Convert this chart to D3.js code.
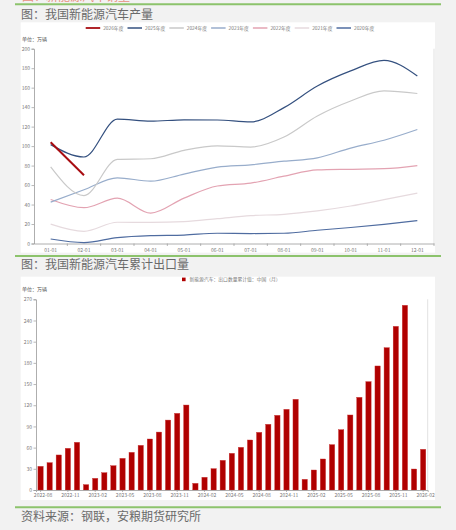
<!DOCTYPE html>
<html><head><meta charset="utf-8">
<script src="https://cdn.jsdelivr.net/npm/d3@7"></script>
<style>
html,body{margin:0;padding:0;background:#f2f2f2;}
svg{display:block;}
text{font-family:"Noto Sans CJK SC","Noto Sans",sans-serif;}
</style></head>
<body>
<svg id="c" width="456" height="530"></svg>
<script>
// ---------- data ----------
const months = ["01-01","02-01","03-01","04-01","05-01","06-01","07-01","08-01","09-01","10-01","11-01","12-01"];
const seriesNames = ["2026年度","2025年度","2024年度","2023年度","2022年度","2021年度","2020年度"];
const seriesColors = ["#a80d12","#34507f","#c9c9c9","#98adcb","#e3a3b2","#e6dade","#4f6ca0"];
const prod2026 = [104, 70];
const prod2025 = [101.5, 88.8, 127.7, 125.6, 127, 126.8, 124.8, 139.5, 161.7, 177.2, 188, 172];
const prod2024 = [78.7, 49.2, 86.4, 87, 95.7, 100.3, 99, 109.3, 130.9, 146.3, 156.6, 154];
const prod2023 = [42.5, 55.2, 67.4, 64, 71.3, 78.4, 80.8, 84.5, 87.9, 98, 106, 117];
const prod2022 = [45.2, 36.8, 46.5, 31.2, 46.6, 59, 62, 69.1, 75.5, 76.2, 76.8, 80];
const prod2021 = [19.9, 12.5, 21.8, 21.7, 22.5, 25.5, 28.6, 30, 33.5, 38.5, 45, 51.8];
const prod2020 = [4.6, 1, 6.1, 8.1, 8.7, 10.5, 10.2, 10.5, 13.6, 16.4, 19.7, 23.5];
const prodSeries = [prod2026, prod2025, prod2024, prod2023, prod2022, prod2021, prod2020];
const prodTicks = [0,20,40,60,80,100,120,140,160,180,200];

const exportMonths = [
 "2022-08","2022-09","2022-10","2022-11","2022-12",
 "2023-01","2023-02","2023-03","2023-04","2023-05","2023-06","2023-07","2023-08","2023-09","2023-10","2023-11","2023-12",
 "2024-01","2024-02","2024-03","2024-04","2024-05","2024-06","2024-07","2024-08","2024-09","2024-10","2024-11","2024-12",
 "2025-01","2025-02","2025-03","2025-04","2025-05","2025-06","2025-07","2025-08","2025-09","2025-10","2025-11","2025-12",
 "2026-01","2026-02"];
const exportValues = [
 33.5, 38.7, 49.6, 59, 67.5,
 7.6, 16.5, 24.5, 34.4, 44.8, 53.3, 63.2, 72.2, 82, 99, 108.5, 120.3,
 9.4, 18, 30.2, 42, 51.9, 60.4, 70.8, 81.6, 93, 105.7, 114.2, 128.4,
 15.1, 28.3, 43.9, 64.2, 85.4, 106.2, 131.2, 153.4, 175.6, 201.5, 231.7, 261.5,
 29.7, 57.6];
const exportTicks = [0,30,60,90,120,150,180,210,240,270];
const exportLabels = ["2022-08","2022-11","2023-02","2023-05","2023-08","2023-11","2024-02","2024-05","2024-08","2024-11","2025-02","2025-05","2025-08","2025-11","2026-02"];
const exportLegend = "新能源汽车：出口数量累计值：中国（月）";

// ---------- page ----------
const svg = d3.select("#c");
const green = "#8cc36c";
const titleColor = "#6a6a6a";

// cut-off text at very top (only its lower edge shows, as in the reference)
svg.append("text").attr("x",22).attr("y",0.8).attr("font-size",12).attr("fill","#e8907f").text("图：新能源汽车销量");

[4.3, 256, 507.3].forEach(y=>{
  svg.append("line").attr("x1",15).attr("x2",441).attr("y1",y).attr("y2",y)
    .attr("stroke",green).attr("stroke-width",2);
});
svg.append("text").attr("x",21).attr("y",18.5).attr("font-size",12).attr("fill",titleColor).text("图：我国新能源汽车产量");
svg.append("text").attr("x",21).attr("y",269).attr("font-size",12).attr("fill",titleColor).text("图：我国新能源汽车累计出口量");
svg.append("text").attr("x",21).attr("y",520.5).attr("font-size",12).attr("fill",titleColor).text("资料来源：钢联，安粮期货研究所");

// ---------- chart 1 ----------
svg.append("rect").attr("x",20.7).attr("y",22.3).attr("width",414.3).attr("height",230.4).attr("fill","#fff");
const x1 = d3.scaleBand().domain(months).range([34, 434]);
const y1 = d3.scaleLinear().domain([0,200]).range([243.5, 48.7]);
const g1 = svg.append("g");

g1.append("line").attr("x1",434).attr("x2",434).attr("y1",y1(200)).attr("y2",y1(0)).attr("stroke","#d9d9d9").attr("stroke-width",0.8);

const yAx1 = g1.append("g").attr("transform","translate(34,0)")
  .call(d3.axisLeft(y1).tickValues(prodTicks).tickSize(2.5).tickPadding(1.5));
const xAx1 = g1.append("g").attr("transform",`translate(0,${y1(0)})`)
  .call(d3.axisBottom(x1).tickSize(0).tickPadding(4.5));
g1.append("g").selectAll("line").data(months).join("line")
  .attr("x1",d=>x1(d)+x1.bandwidth()).attr("x2",d=>x1(d)+x1.bandwidth())
  .attr("y1",y1(0)).attr("y2",y1(0)+2.5).attr("stroke","#999").attr("stroke-width",0.7);
[yAx1,xAx1].forEach(a=>{
  a.selectAll("path").attr("stroke","#999").attr("stroke-width",0.8);
  a.selectAll("line").attr("stroke","#999").attr("stroke-width",0.7);
  a.selectAll("text").attr("font-size",5).attr("fill","#777").attr("font-family","'Noto Sans',sans-serif");
});
g1.append("text").attr("x",22).attr("y",41).attr("font-size",5).attr("fill","#555").text("单位：万辆");

const line1 = d3.line().x((d,i)=>x1(months[i])+x1.bandwidth()/2).y(d=>y1(d)).curve(d3.curveMonotoneX);
for (let k = prodSeries.length-1; k >= 0; k--) {
  g1.append("path").datum(prodSeries[k]).attr("d",line1).attr("fill","none")
    .attr("stroke",seriesColors[k]).attr("stroke-width",k===0?2:1.2);
}
const lg1 = g1.append("g");
seriesNames.forEach((n,i)=>{
  const lx = 85.7 + i*41.8;
  lg1.append("line").attr("x1",lx).attr("x2",lx+14.5).attr("y1",28).attr("y2",28)
    .attr("stroke",seriesColors[i]).attr("stroke-width",i===0?1.8:1.5);
  lg1.append("text").attr("x",lx+17.5).attr("y",29.7).attr("font-size",4.8).attr("fill","#777").text(n);
});

// ---------- chart 2 ----------
svg.append("rect").attr("x",20.7).attr("y",276.7).attr("width",414.3).attr("height",223.3).attr("fill","#fff");
const x2 = d3.scaleBand().domain(exportMonths).range([36, 427.7]).paddingInner(0.42).paddingOuter(0.21);
const y2 = d3.scaleLinear().domain([0,270]).range([490, 299.3]);
const g2 = svg.append("g");
g2.append("line").attr("x1",427.7).attr("x2",427.7).attr("y1",y2(270)).attr("y2",y2(0)).attr("stroke","#d9d9d9").attr("stroke-width",0.8);

g2.append("g").selectAll("rect").data(exportValues).join("rect")
  .attr("x",(d,i)=>x2(exportMonths[i])).attr("width",x2.bandwidth())
  .attr("y",d=>y2(d)).attr("height",d=>y2(0)-y2(d))
  .attr("fill","#b00000").attr("stroke","#c83030").attr("stroke-width",0.4);

const yAx2 = g2.append("g").attr("transform","translate(36,0)")
  .call(d3.axisLeft(y2).tickValues(exportTicks).tickSize(2.5).tickPadding(1.5));
const xAx2 = g2.append("g").attr("transform",`translate(0,${y2(0)})`)
  .call(d3.axisBottom(x2).tickValues(exportLabels).tickSize(2).tickPadding(1.5));
[yAx2,xAx2].forEach(a=>{
  a.selectAll("path").attr("stroke","#999").attr("stroke-width",0.8);
  a.selectAll("line").attr("stroke","#999").attr("stroke-width",0.7);
  a.selectAll("text").attr("font-size",5).attr("fill","#777").attr("font-family","'Noto Sans',sans-serif");
});
xAx2.selectAll(".tick text").attr("dx",2.5);
g2.append("text").attr("x",22).attr("y",291).attr("font-size",5).attr("fill","#555").text("单位：万辆");
g2.append("rect").attr("x",182).attr("y",277.6).attr("width",3.6).attr("height",3.6).attr("fill","#b00000");
g2.append("text").attr("x",189.5).attr("y",281.2).attr("font-size",4.8).attr("fill","#777").text(exportLegend);
</script>
</body></html>
